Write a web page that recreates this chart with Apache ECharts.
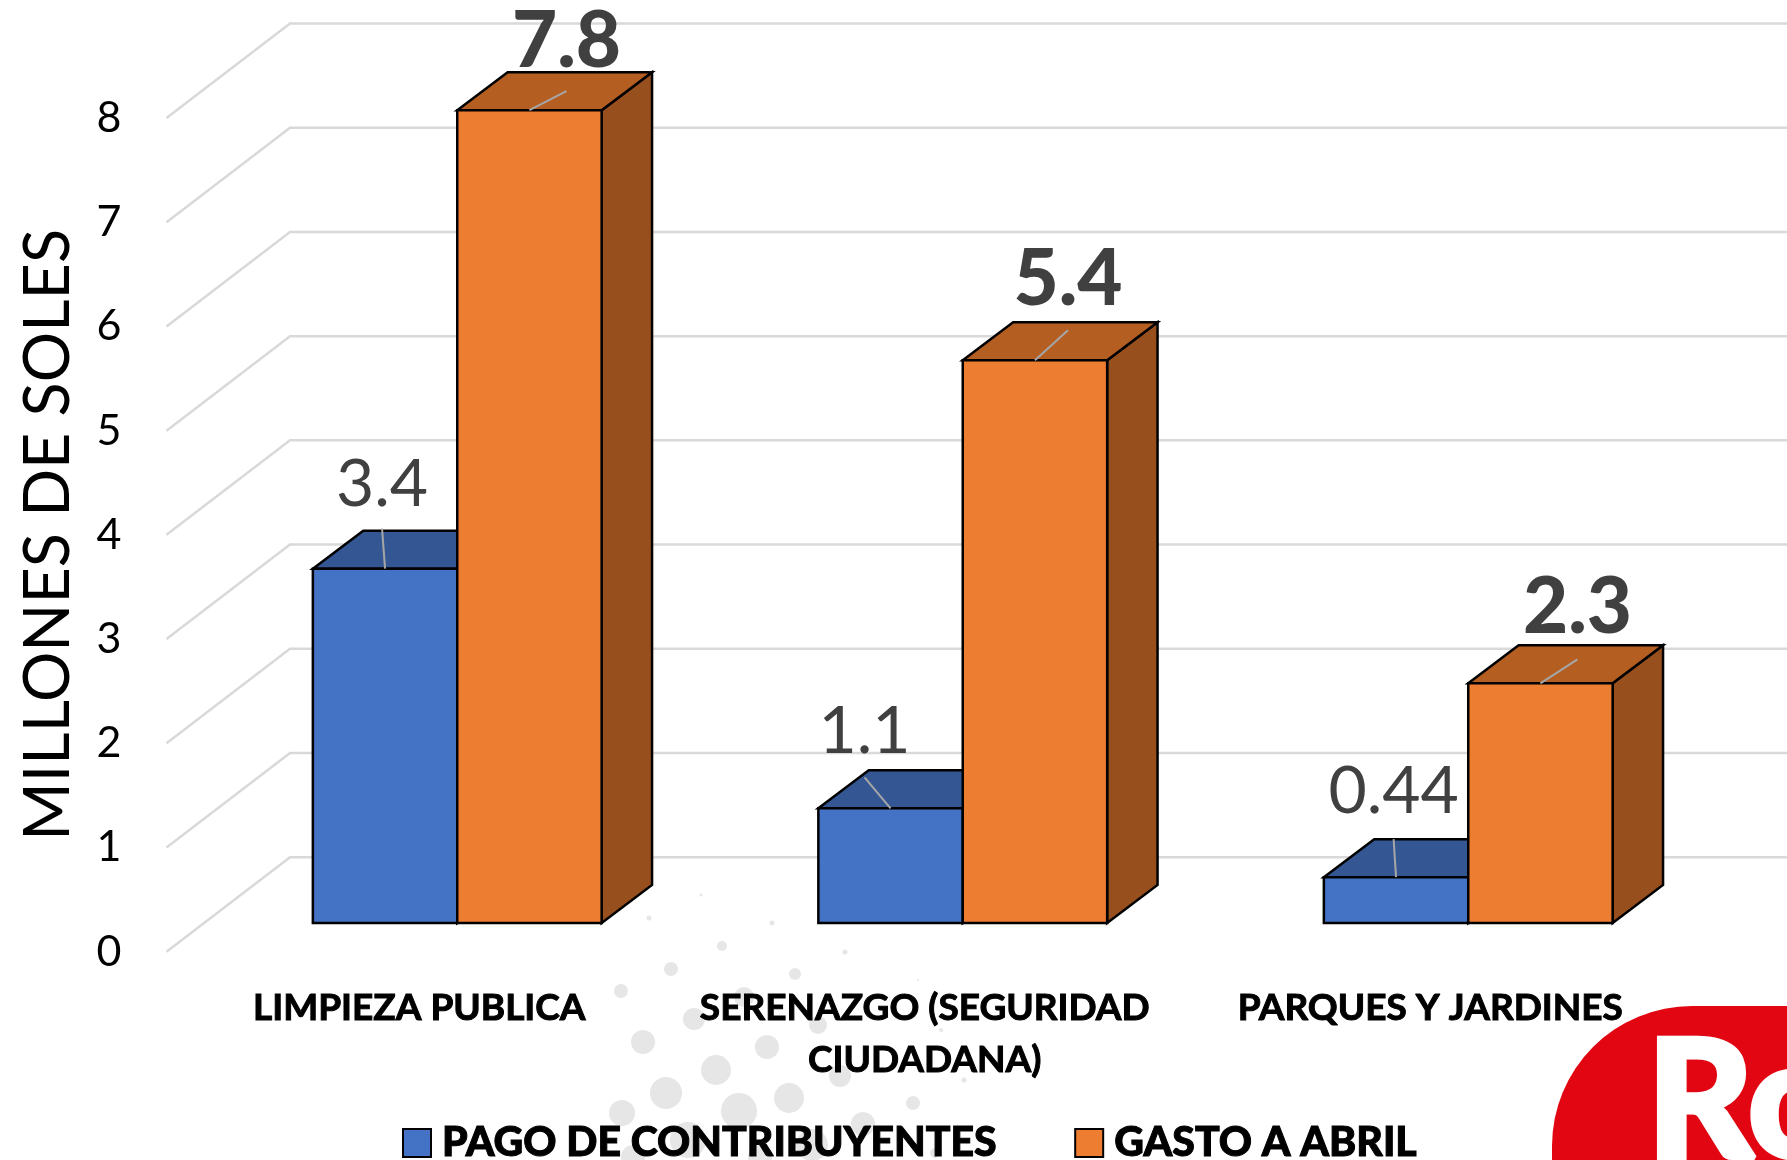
<!DOCTYPE html>
<html lang="es">
<head>
<meta charset="UTF-8">
<title>Pago de contribuyentes y gasto a abril</title>
<script src="https://cdn.jsdelivr.net/npm/echarts@6/dist/echarts.min.js"></script>
<style>
  html, body { margin: 0; background: #fff; }
  #chart { width: 1787px; height: 1160px; }
</style>
</head>
<body>
<div id="chart"></div>
<script>
// datos
const categories = ['LIMPIEZA PUBLICA', 'SERENAZGO (SEGURIDAD\nCIUDADANA)', 'PARQUES Y JARDINES'];
const pagoValues = [3.4, 1.1, 0.44];
const gastoValues = [7.8, 5.4, 2.3];
const pagoName = 'PAGO DE CONTRIBUYENTES';
const gastoName = 'GASTO A ABRIL';
const yTicks = [0, 1, 2, 3, 4, 5, 6, 7, 8];

// falso 3D: desplazamientos en pixeles
const WALL = [123.5, -94.5];
const BAR_FRONT = [38, -28.7];
const BAR_DEPTH = [50.4, -38];
const BAR_W = 144.4;
const FONT = 'Lato, "Open Sans", sans-serif';

// leader line end and label centre, relative to the bar top
const pagoLabels = [[-3, -40, -3, -84], [-26, -31, -26, -77], [-2.4, -38, -2.4, -85]];
const gastoLabels = [[37, -19, 37, -68], [33, -30, 33, -80], [37, -24, 37, -75]];

const chart = echarts.init(document.getElementById('chart'));

function poly(points, fill) {
    return {
        type: 'polygon',
        shape: { points },
        style: { fill, stroke: '#000', lineWidth: 2.5, lineJoin: 'miter' }
    };
}

function barRender(shift, colors, leaders, bold) {
    return function (params, api) {
        const i = api.value(0);
        const top = api.coord([i, api.value(1)]);
        const base = api.coord([i, 0]);
        const x0 = top[0] + BAR_FRONT[0] + shift;
        const x1 = x0 + BAR_W;
        const yT = top[1] + BAR_FRONT[1];
        const yB = base[1] + BAR_FRONT[1];
        const dx = BAR_DEPTH[0], dy = BAR_DEPTH[1];
        const cx = x0 + BAR_W / 2;
        const l = leaders[i];
        return {
            type: 'group',
            children: [
                poly([[x1, yT], [x1 + dx, yT + dy], [x1 + dx, yB + dy], [x1, yB]], colors[2]),
                poly([[x0, yT], [x0 + dx, yT + dy], [x1 + dx, yT + dy], [x1, yT]], colors[1]),
                poly([[x0, yT], [x1, yT], [x1, yB], [x0, yB]], colors[0]),
                {
                    type: 'line',
                    shape: { x1: cx, y1: yT, x2: cx + l[0], y2: yT + l[1] },
                    style: { stroke: '#a6a6a6', lineWidth: 2 }
                },
                {
                    type: 'text',
                    style: {
                        x: cx + l[2], y: yT + l[3],
                        text: String(api.value(1)),
                        align: 'center', verticalAlign: 'middle',
                        font: (bold ? '900 78px ' : '66px ') + FONT,
                        fill: '#404040'
                    }
                }
            ]
        };
    };
}

function wallRender(params, api) {
    const p = api.coord([0, api.value(0)]);
    const left = params.coordSys.x;
    const w = params.coordSys.width;
    const y = p[1];
    return {
        type: 'polyline',
        shape: {
            points: [[left, y], [left + WALL[0], y + WALL[1]], [left + WALL[0] + w, y + WALL[1]]]
        },
        style: { fill: 'none', stroke: '#d9d9d9', lineWidth: 2.5 }
    };
}

// puntos grises de la marca de agua, detras del grafico
const dots = [
    [649, 918, 2.5], [701, 895, 1.5], [772, 923, 2.5], [722, 946, 5], [845, 952, 2.5], [671, 969, 7],
    [795, 974, 6], [621, 991, 7], [744, 997, 10], [918, 980, 1], [694, 1019, 11], [818, 1025, 9],
    [643, 1042, 12], [767, 1047, 12], [941, 1030, 2], [716, 1070, 15], [840, 1076, 11], [964, 1080, 2.5],
    [666, 1093, 16], [789, 1098, 15], [913, 1103, 7], [622, 1113, 13], [739, 1111, 18], [863, 1124, 12],
    [688, 1140, 18], [812, 1145, 16], [633, 1157, 12], [935, 1153, 5], [760, 1157, 12]
];

const option = {
    animation: false,
    backgroundColor: '#fff',
    graphic: [
        ...dots.map(d => ({
            type: 'circle', silent: true, z: 0,
            shape: { cx: d[0], cy: d[1], r: d[2] },
            style: { fill: '#e6e6e6' }
        })),
        {
            type: 'rect', silent: true, z: 0,
            shape: { x: 1552, y: 1006, width: 400, height: 320, r: 140 },
            style: { fill: '#e20613' }
        },
        {
            type: 'text', silent: true, z: 1,
            style: {
                x: 1647, y: 1186, text: 'Ro',
                font: '900 164px ' + FONT,
                fill: '#fff', stroke: '#fff', lineWidth: 5, verticalAlign: 'bottom'
            }
        }
    ],
    grid: { left: 166.5, top: 118, width: 1516.5, height: 833.7, outerBoundsMode: 'none' },
    legend: {
        left: 397, top: 1117,
        itemWidth: 28, itemHeight: 28, itemGap: 77,
        icon: 'rect',
        data: [
            { name: pagoName, itemStyle: { color: '#4472c4', borderColor: '#000', borderWidth: 2 } },
            { name: gastoName, itemStyle: { color: '#ed7d31', borderColor: '#000', borderWidth: 2 } }
        ],
        textStyle: {
            fontFamily: FONT, fontWeight: 900, fontSize: 41, color: '#000',
            padding: [0, 0, 0, 6], textBorderColor: '#000', textBorderWidth: 1
        }
    },
    xAxis: {
        type: 'category',
        data: categories,
        axisLine: { show: false },
        axisTick: { show: false },
        axisLabel: {
            margin: 30, color: '#000', fontFamily: FONT, fontWeight: 'bold',
            fontSize: 37, lineHeight: 52, interval: 0,
            textBorderColor: '#000', textBorderWidth: 1
        }
    },
    yAxis: {
        type: 'value',
        min: 0, max: 8, interval: 1,
        axisLine: { show: false },
        axisTick: { show: false },
        splitLine: { show: false },
        axisLabel: { margin: 45, color: '#000', fontFamily: FONT, fontSize: 43, padding: [12, 0, 0, 0] },
        name: 'MILLONES DE SOLES',
        nameLocation: 'middle',
        nameGap: 86,
        nameRotate: 90,
        nameTextStyle: { color: '#000', fontFamily: FONT, fontSize: 63 }
    },
    series: [
        {
            type: 'custom', name: 'wall', silent: true, z: 1,
            encode: { y: 0 },
            data: yTicks.map(v => [v]),
            clip: false,
            renderItem: wallRender
        },
        {
            type: 'custom', name: pagoName, z: 2, clip: false,
            itemStyle: { color: '#4472c4' },
            data: pagoValues.map((v, i) => [i, v]),
            encode: { x: 0, y: 1 },
            renderItem: barRender(-BAR_W, ['#4472c4', '#345793', '#2f4f85'], pagoLabels, false)
        },
        {
            type: 'custom', name: gastoName, z: 3, clip: false,
            itemStyle: { color: '#ed7d31' },
            data: gastoValues.map((v, i) => [i, v]),
            encode: { x: 0, y: 1 },
            renderItem: barRender(0, ['#ed7d31', '#b55e22', '#984f1e'], gastoLabels, true)
        }
    ]
};

chart.setOption(option);
window.addEventListener('resize', () => chart.resize());
</script>
</body>
</html>
